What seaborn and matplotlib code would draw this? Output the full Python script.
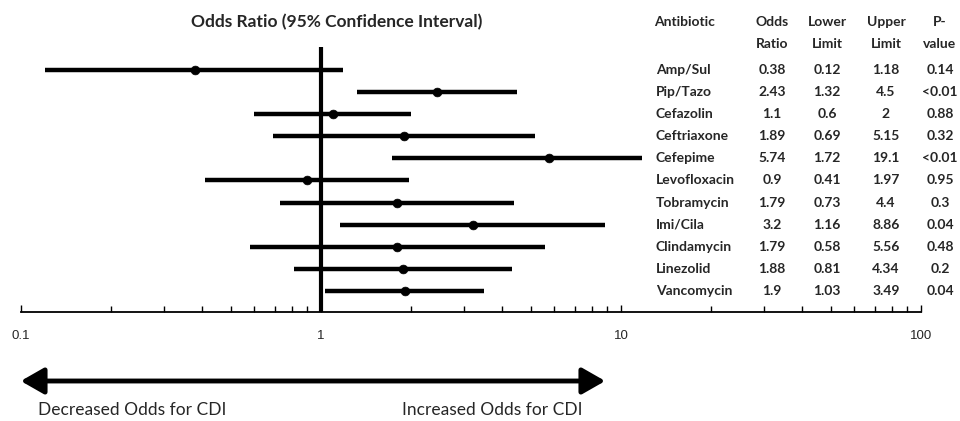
import matplotlib
matplotlib.use("Agg")
import matplotlib.pyplot as plt
import seaborn as sns
import pandas as pd
from matplotlib.patches import FancyArrowPatch, Rectangle
from matplotlib.ticker import LogLocator, NullFormatter

antibiotics = ["Amp/Sul", "Pip/Tazo", "Cefazolin", "Ceftriaxone", "Cefepime",
               "Levofloxacin", "Tobramycin", "Imi/Cila", "Clindamycin",
               "Linezolid", "Vancomycin"]
odds_ratio = [0.38, 2.43, 1.1, 1.89, 5.74, 0.9, 1.79, 3.2, 1.79, 1.88, 1.9]
lower_limit = [0.12, 1.32, 0.6, 0.69, 1.72, 0.41, 0.73, 1.16, 0.58, 0.81, 1.03]
upper_limit = [1.18, 4.5, 2, 5.15, 19.1, 1.97, 4.4, 8.86, 5.56, 4.34, 3.49]
p_values = ["0.14", "<0.01", "0.88", "0.32", "<0.01", "0.95", "0.3", "0.04",
            "0.48", "0.2", "0.04"]
x_ticks = [0.1, 1, 10, 100]
x_tick_labels = ["0.1", "1", "10", "100"]

df = pd.DataFrame({"antibiotic": antibiotics, "odds": odds_ratio,
                   "lower": lower_limit, "upper": upper_limit, "p": p_values})
df["row"] = range(len(df))

sns.set_style("white")
plt.rcParams["font.family"] = ["Lato", "DejaVu Sans"]

W, H = 960, 421
fig = plt.figure(figsize=(9.6, 4.21), dpi=100)

def fx(px):
    return px / W

def fy(py):
    return 1 - py / H

# forest plot axes: x from 0.1 (px 21) to 100 (px 921), bottom axis at px 312
ax = fig.add_axes([fx(21), fy(312), fx(900), (312 - 47) / H])
ax.set_xscale("log")
ax.hlines(df["row"], df["lower"], df["upper"], color="black", lw=3.2)
sns.scatterplot(data=df, x="odds", y="row", color="black", s=40,
                edgecolor="black", ax=ax, zorder=3, legend=False)
ax.axvline(1, color="black", lw=3)
ax.set_xlim(0.1, 100)
ax.set_ylim(10.95, -1.04)

for s in ["top", "right", "left"]:
    ax.spines[s].set_visible(False)
ax.spines["bottom"].set_linewidth(1.3)
ax.spines["bottom"].set_color("black")
ax.set_yticks([])
ax.set_xticks(x_ticks)
ax.set_xticklabels(x_tick_labels, fontfamily=["Liberation Sans", "DejaVu Sans"])
ax.xaxis.set_minor_locator(LogLocator(base=10, subs=range(2, 10)))
ax.xaxis.set_minor_formatter(NullFormatter())
ax.tick_params(axis="x", which="both", direction="in", color="black",
               width=1, bottom=True)
ax.tick_params(axis="x", which="major", length=5, pad=13, labelsize=9.5)
ax.tick_params(axis="x", which="minor", length=4)
ax.set_xlabel("")
ax.set_ylabel("")

# white panel behind the table (hides the Cefepime line running under it)
fig.add_artist(Rectangle((fx(642), fy(302)), fx(W - 642), 302 / H,
                         transform=fig.transFigure, facecolor="white",
                         edgecolor="none", zorder=1))

fig.text(fx(337), fy(22), "Odds Ratio (95% Confidence Interval)",
         ha="center", va="center", fontsize=12.5, fontweight="bold")

# table
col_x = [656, 772, 827, 886, 940]
hdr1 = ["Antibiotic", "Odds", "Lower", "Upper", "P-"]
hdr2 = ["", "Ratio", "Limit", "Limit", "value"]
tkw = dict(va="center", fontsize=10, fontweight="bold", zorder=2)
for i, (a, b) in enumerate(zip(hdr1, hdr2)):
    if i == 0:
        fig.text(fx(685), fy(22), a, ha="center", **tkw)
    else:
        fig.text(fx(col_x[i]), fy(22), a, ha="center", **tkw)
        fig.text(fx(col_x[i]), fy(44), b, ha="center", **tkw)

for r in df.itertuples():
    ypx = 70 + 22.1 * r.row
    fig.text(fx(col_x[0]), fy(ypx), r.antibiotic, ha="left", **tkw)
    fig.text(fx(col_x[1]), fy(ypx), f"{r.odds:g}", ha="center", **tkw)
    fig.text(fx(col_x[2]), fy(ypx), f"{r.lower:g}", ha="center", **tkw)
    fig.text(fx(col_x[3]), fy(ypx), f"{r.upper:g}", ha="center", **tkw)
    fig.text(fx(col_x[4]), fy(ypx), r.p, ha="center", **tkw)

# double arrow with labels
fig.add_artist(FancyArrowPatch((fx(18), fy(381)), (fx(608), fy(381)),
                               transform=fig.transFigure,
                               arrowstyle="<|-|>,head_length=0.7,head_width=0.4",
                               mutation_scale=20, lw=3.5, color="black"))
fig.text(fx(38), fy(410), "Decreased Odds for CDI", ha="left", va="center",
         fontsize=12.5)
fig.text(fx(583), fy(410), "Increased Odds for CDI", ha="right", va="center",
         fontsize=12.5)

fig.savefig("out.png", dpi=100)
